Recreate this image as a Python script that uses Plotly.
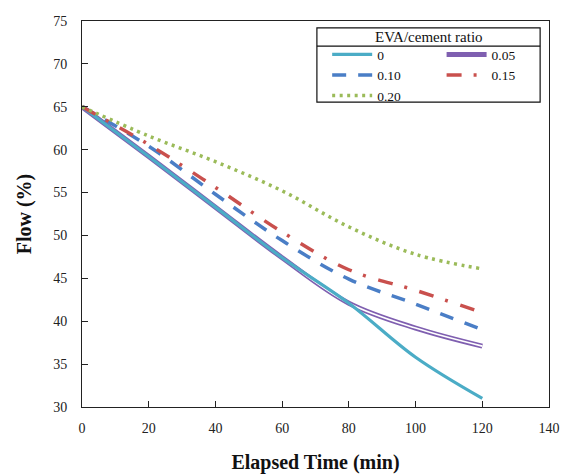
import plotly.graph_objects as go

time_min = [0, 20, 40, 60, 80, 100, 120]
flow_0 = [65, 59.2, 53.3, 47.4, 42.1, 35.8, 31.0]
flow_005 = [65, 59.2, 53.3, 47.4, 42.1, 39.2, 37.1]
flow_010 = [65, 60.4, 54.8, 49.4, 44.9, 42.0, 39.0]
flow_015 = [65, 60.6, 55.6, 50.4, 46.0, 43.6, 41.0]
flow_020 = [65, 61.6, 58.6, 55.2, 51.0, 47.8, 46.1]

series_names = ["0", "0.05", "0.10", "0.15", "0.20"]

FONT = "Liberation Serif"

fig = go.Figure()

fig.add_trace(go.Scatter(x=time_min, y=flow_005, name=series_names[1], mode="lines",
                         line=dict(color="#7F5FB0", width=5, shape="spline"),
                         legend="legend2", legendrank=2))
fig.add_trace(go.Scatter(x=time_min, y=flow_005, name=series_names[1], mode="lines",
                         line=dict(color="white", width=1.6, shape="spline"),
                         showlegend=False, hoverinfo="skip"))
fig.add_trace(go.Scatter(x=time_min, y=flow_0, name=series_names[0], mode="lines",
                         line=dict(color="#4BACC6", width=3.2, shape="spline"),
                         legend="legend", legendrank=1))
fig.add_trace(go.Scatter(x=time_min, y=flow_010, name=series_names[2], mode="lines",
                         line=dict(color="#4A7EC6", width=3.5, shape="spline", dash="14px,12px"),
                         legend="legend", legendrank=3))
fig.add_trace(go.Scatter(x=time_min, y=flow_015, name=series_names[3], mode="lines",
                         line=dict(color="#C9504D", width=3.5, shape="spline", dash="15px,12px,3px,13px"),
                         legend="legend2", legendrank=4))
fig.add_trace(go.Scatter(x=time_min, y=flow_020, name=series_names[4], mode="lines",
                         line=dict(color="#9BBB59", width=3.5, shape="spline", dash="3px,4.5px"),
                         legend="legend", legendrank=5))

legend_common = dict(
    bgcolor="rgba(0,0,0,0)", borderwidth=0,
    font=dict(family=FONT, size=13.5, color="#111"),
    xanchor="left", yanchor="top", orientation="v",
    itemwidth=40, tracegroupgap=0, traceorder="normal",
)

fig.update_layout(
    width=562, height=474,
    margin=dict(l=82, r=13, t=21, b=67),
    paper_bgcolor="white", plot_bgcolor="white",
    font=dict(family=FONT, size=14, color="#222"),
    legend=dict(x=0.525, y=0.953, **legend_common),
    legend2=dict(x=0.77, y=0.953, **legend_common),
    shapes=[
        dict(type="rect", xref="paper", yref="paper", x0=0.503, x1=0.981, y0=0.790, y1=0.982,
             line=dict(color="#111", width=1.2), fillcolor="rgba(0,0,0,0)"),
        dict(type="line", xref="paper", yref="paper", x0=0.503, x1=0.981, y0=0.935, y1=0.935,
             line=dict(color="#111", width=1.2)),
    ],
    annotations=[
        dict(text="EVA/cement ratio", xref="paper", yref="paper", x=0.742, y=0.958,
             xanchor="center", yanchor="middle", showarrow=False,
             font=dict(family=FONT, size=15, color="#111")),
    ],
)

fig.update_xaxes(
    range=[0, 140], dtick=20, tick0=0,
    showgrid=False, zeroline=False, automargin=False,
    showline=True, linecolor="#222", linewidth=1, mirror=True,
    ticks="inside", ticklen=6, tickcolor="#222",
    ticklabelstandoff=8,
    tickfont=dict(family=FONT, size=14, color="#222"),
    title=dict(text="<b>Elapsed Time (min)</b>", font=dict(family=FONT, size=20, color="#111"), standoff=20),
)
fig.update_yaxes(
    range=[30, 75], dtick=5, tick0=30,
    showgrid=False, zeroline=False, automargin=False,
    showline=True, linecolor="#222", linewidth=1, mirror=True,
    ticks="inside", ticklen=6, tickcolor="#222",
    ticklabelstandoff=11,
    tickfont=dict(family=FONT, size=14, color="#222"),
    title=dict(text="<b>Flow (%)</b>", font=dict(family=FONT, size=20, color="#111"), standoff=16),
)

fig.write_html("out.html", config={"displayModeBar": False},
               post_script="document.body.style.margin='0px';")
